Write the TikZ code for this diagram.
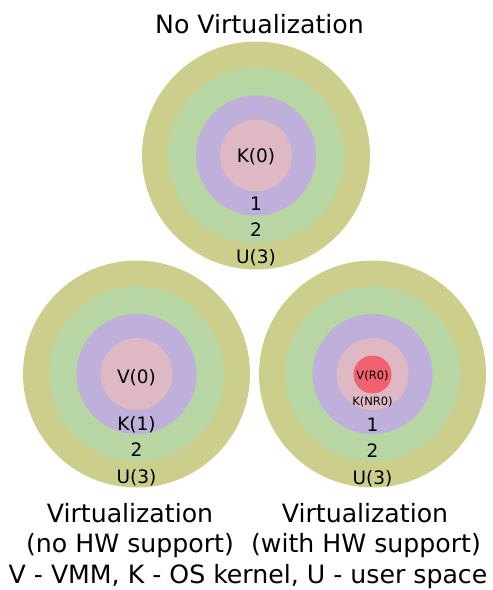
\documentclass[tikz,border=0pt]{standalone}
\usepackage{fontspec}
\setmainfont{DejaVu Sans}
\definecolor{ringU}{HTML}{CCCE8C}
\definecolor{ringTwo}{HTML}{B7D6A3}
\definecolor{ringOne}{HTML}{BEAFDB}
\definecolor{ringZero}{HTML}{DEB9C4}
\definecolor{ringV}{HTML}{F2626E}
\tikzset{
  disc/.style={circle, inner sep=0pt, draw=none},
  ringlbl/.style={anchor=base, inner sep=0pt, font=\fontsize{18.5}{20}\selectfont},
  smalllbl/.style={anchor=base, inner sep=0pt, font=\fontsize{11.5}{12}\selectfont},
  caption/.style={anchor=base, inner sep=0pt, font=\fontsize{25.2}{30}\selectfont}
}
\begin{document}
\begin{tikzpicture}[x=1pt,y=-1pt]
\useasboundingbox (0,0) rectangle (493,590);
% top: no virtualization
\node[disc, fill=ringU, minimum size=228pt] (a3) at (256,155.5) {};
\node[disc, fill=ringTwo, minimum size=176pt] (a2) at (a3.center) {};
\node[disc, fill=ringOne, minimum size=120pt] (a1) at (a3.center) {};
\node[disc, fill=ringZero, minimum size=72pt] (a0) at (a3.center) {};
\node[ringlbl] (a0l) at (256,162.5) {K(0)};
\node[ringlbl] (a1l) at (256,210) {1};
\node[ringlbl] (a2l) at (256,236.5) {2};
\node[ringlbl] (a3l) at (256,263.5) {U(3)};
% bottom left: no HW support
\node[disc, fill=ringU, minimum size=227pt] (b3) at (136.5,374) {};
\node[disc, fill=ringTwo, minimum size=175pt] (b2) at (b3.center) {};
\node[disc, fill=ringOne, minimum size=120pt] (b1) at (b3.center) {};
\node[disc, fill=ringZero, minimum size=72pt] (b0) at (b3.center) {};
\node[ringlbl] (b0l) at (136.5,383.5) {V(0)};
\node[ringlbl] (b1l) at (136.5,430) {K(1)};
\node[ringlbl] (b2l) at (136.5,456) {2};
\node[ringlbl] (b3l) at (136.5,483) {U(3)};
% bottom right: with HW support
\node[disc, fill=ringU, minimum size=227pt] (c3) at (372.5,374) {};
\node[disc, fill=ringTwo, minimum size=175pt] (c2) at (c3.center) {};
\node[disc, fill=ringOne, minimum size=120pt] (c1) at (c3.center) {};
\node[disc, fill=ringZero, minimum size=72pt] (c0) at (c3.center) {};
\node[disc, fill=ringV, minimum size=38pt] (cv) at (372.5,374.5) {};
\node[smalllbl] (cvl) at (372.5,379) {V(R0)};
\node[smalllbl] (c0l) at (372.5,405.5) {K(NR0)};
\node[ringlbl] (c1l) at (372.5,431.5) {1};
\node[ringlbl] (c2l) at (372.5,457.5) {2};
\node[ringlbl] (c3l) at (372.5,484) {U(3)};
% texts
\node[caption] (title) at (259.5,33) {No Virtualization};
\node[caption] (capL1) at (130,522) {Virtualization};
\node[caption] (capL2) at (130,552.5) {(no HW support)};
\node[caption] (capR1) at (365,522) {Virtualization};
\node[caption] (capR2) at (366,552.5) {(with HW support)};
\node[caption] (legend) at (248,583) {V - VMM, K - OS kernel, U - user space};
\end{tikzpicture}
\end{document}
